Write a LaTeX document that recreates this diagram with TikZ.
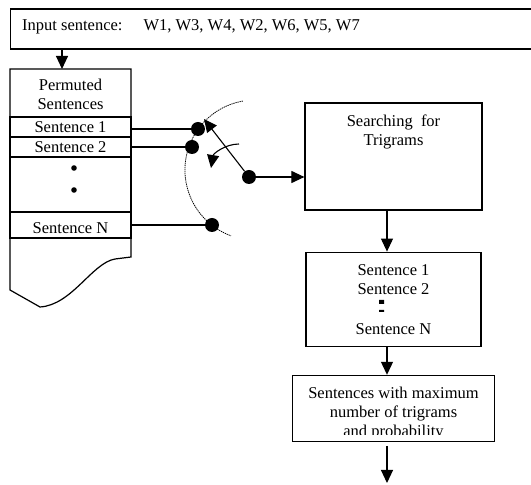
\documentclass[tikz,border=0pt]{standalone}
\usepackage{fontspec}
\setmainfont{Liberation Serif}
\usetikzlibrary{positioning,arrows.meta}

\begin{document}
\begin{tikzpicture}[x=1pt,y=1pt,
  box/.style={draw,line width=1.2pt,inner sep=0pt},
  txt/.style={font=\fontsize{16.5}{19}\selectfont,align=center,inner sep=0pt},
  row/.style={draw,line width=1.2pt,minimum width=121pt,inner sep=0pt},
  dot/.style={circle,fill,inner sep=0pt,minimum size=14pt},
  wire/.style={line width=1.1pt},
  arr/.style={line width=1.1pt,-{Triangle[length=13pt,width=12pt]}},
  node distance=1.5cm]
  \useasboundingbox (0,0) rectangle (531,485);

  \node[box,minimum width=530pt,minimum height=40pt,anchor=west] (input) at (10,456) {};
  \node[txt,right=12pt of input.west,yshift=2pt] (inputtxt) {Input sentence:\hspace{21pt}W1, W3, W4, W2, W6, W5, W7};

  \coordinate (doctop) at (62,416);
  \draw[line width=1.2pt] (10,416) -- (131,416) -- (131,228) -- (115,226)
     .. controls (92,222) and (72,180) .. (40,178) -- (10,195) -- cycle;
  \node[txt] (title) at (70.5,391) {Permuted\\Sentences};
  \node[row,txt,minimum height=20pt] (s1) at (70.5,358) {Sentence 1};
  \node[row,txt,minimum height=20pt] (s2) at (70.5,338) {Sentence 2};
  \node[row,minimum height=55pt] (more) at (70.5,300.5) {};
  \fill (74,317) circle (2.8pt) (74,295) circle (2.8pt);
  \node[row,minimum height=26pt] (sN) at (70.5,260) {};
  \node[txt] (sNtxt) at (70.5,257) {Sentence N};
  \draw[arr] (input.south -| doctop) -- (doctop);

  \draw[line width=0.8pt,dash pattern=on 1.3pt off 0.8pt] (242.8,383.9) arc[start angle=100,end angle=250,radius=70];
  \node[dot] (d1) at (198,356) {};
  \node[dot] (d2) at (192,338) {};
  \node[dot] (dN) at (212,260) {};
  \node[dot] (pivot) at (249,308) {};
  \draw[wire] (d1 -| s1.east) -- (d1);
  \draw[wire] (d2 -| s2.east) -- (d2);
  \draw[wire] (dN -| sN.east) -- (dN);
  \coordinate (armtip) at (204,366);
  \draw[arr] (pivot) -- (armtip);
  \coordinate (turnA) at (239,341);
  \coordinate (turnB) at (211,317);
  \draw[arr] (turnA) to[bend right=40] (turnB);

  \node[box,minimum width=177pt,minimum height=107pt] (search) at (393.5,328.5) {};
  \node[txt,below=12pt of search.north] (searchtxt) {Searching\ \ for\\Trigrams};
  \draw[arr] (pivot) -- (pivot -| search.west);

  \coordinate (out) at (387,2);
  \node[box,txt,minimum width=175pt,minimum height=94pt,below=41pt of search] (list) {Sentence 1\\Sentence 2\\[21pt]Sentence N};
  \fill (379,181) rectangle (384,185) (379,173) rectangle (384,175);
  \node[box,minimum width=202pt,minimum height=66pt,below=28pt of list] (best) {};
  \begin{scope}
    \clip ([yshift=7pt]best.south west) rectangle (best.north east);
    \node[txt] (besttxt) at ([yshift=-5pt]best.center) {Sentences with maximum\\number of trigrams\\and probability};
  \end{scope}
  \draw[arr] (search.south -| out) -- (list.north -| out);
  \draw[arr] (list.south -| out) -- (best.north -| out);
  \draw[arr] ([yshift=-4pt]best.south -| out) -- (out);
\end{tikzpicture}
\end{document}
